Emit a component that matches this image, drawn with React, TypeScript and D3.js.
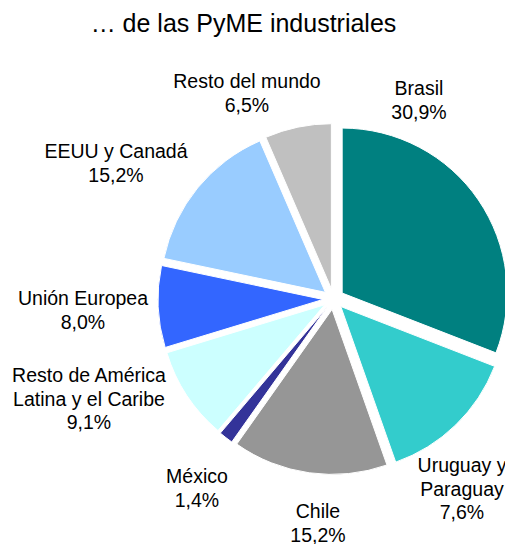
import React from "react";
import * as d3 from "d3";

const title = "… de las PyME industriales";
const categories = [
  "Brasil",
  "Uruguay y Paraguay",
  "Chile",
  "México",
  "Resto de América Latina y el Caribe",
  "Unión Europea",
  "EEUU y Canadá",
  "Resto del mundo",
];
// slice sizes as drawn in the picture
const values = [30.9, 13.7, 15.2, 1.4, 9.1, 8.0, 15.2, 6.5];
// percentages as printed in the picture's labels
const valueLabels = ["30,9%", "7,6%", "15,2%", "1,4%", "9,1%", "8,0%", "15,2%", "6,5%"];
const labelLines = [
  ["Brasil"],
  ["Uruguay y", "Paraguay"],
  ["Chile"],
  ["México"],
  ["Resto de América", "Latina y el Caribe"],
  ["Unión Europea"],
  ["EEUU y Canadá"],
  ["Resto del mundo"],
];
const colors = ["#008080", "#33CCCC", "#969696", "#333399", "#CCFFFF", "#3366FF", "#99CCFF", "#C0C0C0"];

// layout (text anchor centre x, first baseline y)
const labelPos: [number, number][] = [
  [419, 95],
  [462, 472],
  [318, 518],
  [197, 483],
  [89, 382],
  [83, 305],
  [116, 158],
  [247, 88],
];

const W = 505;
const H = 544;
const cx = 333.5;
const cy = 299;
const R = 165;
const explode = 10.5;
const lineH = 23.5;
const font = "Arial, 'Liberation Sans', sans-serif";

export default function App() {
  const pie = d3.pie<number>().sort(null).value((d) => d);
  const arcs = pie(values);
  const arc = d3.arc<d3.PieArcDatum<number>>().innerRadius(0).outerRadius(R);

  return (
    <svg
      width={W}
      height={H}
      style={{ position: "absolute", left: 0, top: 0, background: "#fff" }}
      fontFamily={font}
    >
      <text x={243.5} y={32} textAnchor="middle" fontSize={25} fill="#000">
        {title}
      </text>
      <g transform={`translate(${cx},${cy})`}>
        {arcs.map((a, i) => {
          const mid = (a.startAngle + a.endAngle) / 2;
          const dx = Math.sin(mid) * explode;
          const dy = -Math.cos(mid) * explode;
          return (
            <path
              key={categories[i]}
              d={arc(a) || ""}
              transform={`translate(${dx},${dy})`}
              fill={colors[i]}
              stroke="#fff"
              strokeWidth={1}
            />
          );
        })}
      </g>
      {labelLines.map((lines, i) => {
        const [x, y] = labelPos[i];
        const all = [...lines, valueLabels[i]];
        return (
          <text key={i} x={x} y={y} textAnchor="middle" fontSize={19.5} fill="#000">
            {all.map((t, j) => (
              <tspan key={j} x={x} y={y + j * lineH}>
                {t}
              </tspan>
            ))}
          </text>
        );
      })}
    </svg>
  );
}
